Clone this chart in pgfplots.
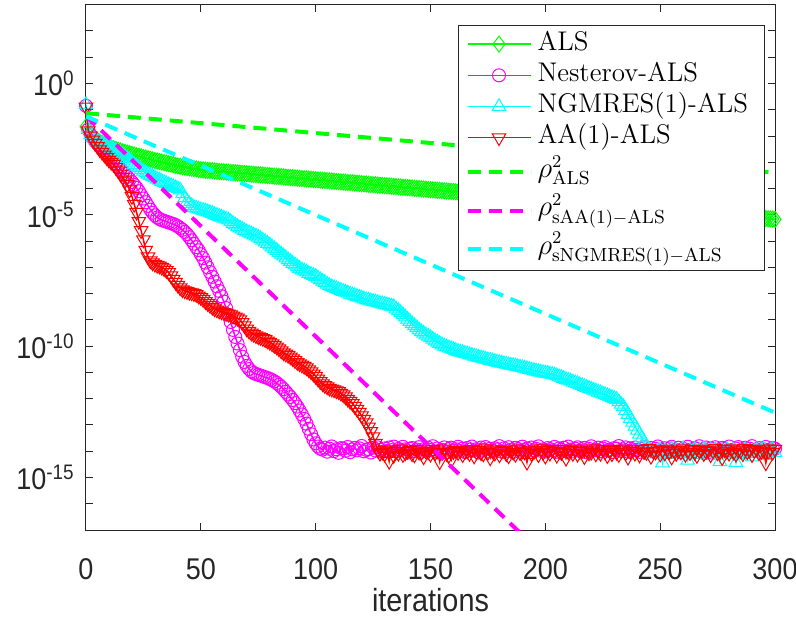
\documentclass[border=0pt]{standalone}
\usepackage{fontspec}
\usepackage{pgfplots}
\pgfplotsset{compat=1.18}
\newfontfamily\axisfont[FakeStretch=0.9]{Liberation Sans}
\definecolor{cG}{rgb}{0,1,0}
\definecolor{cM}{rgb}{1,0,1}
\definecolor{cC}{rgb}{0,1,1}
\definecolor{cR}{rgb}{1,0,0}
\definecolor{axgray}{rgb}{0.15,0.15,0.15}
\begin{document}
\begin{tikzpicture}
\path[use as bounding box] (-43pt,-43.5pt) rectangle (355pt,265pt);
\begin{axis}[
  at={(0,0)}, anchor=south west,
  scale only axis, width=344.5pt, height=262.65pt,
  xmin=0, xmax=300, ymode=log, ymin=1e-17, ymax=1e3,
  xtick={0,50,...,300},
  ytick={1e-15,1e-10,1e-5,1},
  yticklabels={10\textsuperscript{-15},10\textsuperscript{-10},10\textsuperscript{-5},10\textsuperscript{0}},
  minor ytick={1e-17,1e-16,1e-14,1e-13,1e-12,1e-11,1e-9,1e-8,1e-7,1e-6,1e-4,1e-3,1e-2,1e-1,1e1,1e2},
  tick align=inside, major tick length=3.5pt, minor tick length=3.5pt,
  tick style={axgray, line width=0.5pt},
  axis line style={axgray, line width=0.5pt},
  /pgf/number format/assume math mode=true,
  xticklabel style={font=\axisfont\fontsize{15}{16}\selectfont, text=axgray, inner sep=0pt, yshift=-14pt},
  yticklabel style={font=\axisfont\fontsize{15}{16}\selectfont, text=axgray, inner sep=0pt, xshift=-5.5pt},
  xlabel={iterations},
  xlabel style={font=\axisfont\fontsize{16}{18}\selectfont, text=axgray, at={(axis description cs:0.5,0)}, anchor=base, yshift=-40.5pt, inner sep=0pt},
  clip mode=individual,
  legend cell align=left,
  legend style={at={(rel axis cs:1,1)}, anchor=north east, xshift=-5pt, yshift=-10.15pt,
    draw=axgray, line width=0.5pt, fill=white, inner xsep=3.5pt, inner ysep=1.5pt,
    row sep=0pt, column sep=2.5pt, font=\fontsize{13.5}{15}\selectfont,
    nodes={inner sep=0pt, text height=10.8pt, text depth=4.8pt, text width=110pt, align=left}},
  legend image code/.code={\draw[mark repeat=2,mark phase=2,#1] plot coordinates {(0pt,0pt)(15.75pt,0pt)(31.5pt,0pt)};},
]
\addplot[cG, line width=0.75pt, mark=diamond, mark size=4pt, mark options={solid, line width=0.5pt}] coordinates {
(0,2.24e-2)(1,1.58e-2)(2,1.20e-2)(3,9.55e-3)(4,7.94e-3)(5,6.76e-3)(6,5.89e-3)(7,5.25e-3)(8,4.68e-3)(9,4.17e-3)
(10,3.80e-3)(11,3.55e-3)(12,3.31e-3)(13,3.09e-3)(14,2.88e-3)(15,2.69e-3)(16,2.51e-3)(17,2.40e-3)(18,2.24e-3)(19,2.14e-3)
(20,2.00e-3)(21,1.91e-3)(22,1.78e-3)(23,1.70e-3)(24,1.62e-3)(25,1.51e-3)(26,1.45e-3)(27,1.38e-3)(28,1.32e-3)(29,1.23e-3)
(30,1.17e-3)(31,1.12e-3)(32,1.07e-3)(33,1.02e-3)(34,9.77e-4)(35,9.33e-4)(36,8.91e-4)(37,8.51e-4)(38,8.13e-4)(39,7.59e-4)
(40,7.24e-4)(41,7.08e-4)(42,6.76e-4)(43,6.61e-4)(44,6.31e-4)(45,6.17e-4)(46,6.03e-4)(47,5.75e-4)(48,5.62e-4)(49,5.37e-4)
(50,5.25e-4)(51,5.13e-4)(52,5.01e-4)(53,4.90e-4)(54,4.85e-4)(55,4.79e-4)(56,4.68e-4)(57,4.57e-4)(58,4.47e-4)(59,4.42e-4)
(60,4.37e-4)(61,4.29e-4)(62,4.22e-4)(63,4.14e-4)(64,4.07e-4)(65,4.00e-4)(66,3.93e-4)(67,3.87e-4)(68,3.80e-4)(69,3.73e-4)
(70,3.67e-4)(71,3.61e-4)(72,3.54e-4)(73,3.48e-4)(74,3.42e-4)(75,3.36e-4)(76,3.31e-4)(77,3.25e-4)(78,3.19e-4)(79,3.14e-4)
(80,3.08e-4)(81,3.03e-4)(82,2.98e-4)(83,2.93e-4)(84,2.88e-4)(85,2.83e-4)(86,2.78e-4)(87,2.73e-4)(88,2.68e-4)(89,2.64e-4)
(90,2.59e-4)(91,2.55e-4)(92,2.50e-4)(93,2.46e-4)(94,2.42e-4)(95,2.38e-4)(96,2.34e-4)(97,2.30e-4)(98,2.26e-4)(99,2.22e-4)
(100,2.18e-4)(101,2.14e-4)(102,2.10e-4)(103,2.07e-4)(104,2.03e-4)(105,2.00e-4)(106,1.96e-4)(107,1.93e-4)(108,1.90e-4)(109,1.86e-4)
(110,1.83e-4)(111,1.80e-4)(112,1.77e-4)(113,1.74e-4)(114,1.71e-4)(115,1.68e-4)(116,1.65e-4)(117,1.62e-4)(118,1.59e-4)(119,1.57e-4)
(120,1.54e-4)(121,1.51e-4)(122,1.49e-4)(123,1.46e-4)(124,1.43e-4)(125,1.41e-4)(126,1.39e-4)(127,1.36e-4)(128,1.34e-4)(129,1.32e-4)
(130,1.29e-4)(131,1.27e-4)(132,1.25e-4)(133,1.23e-4)(134,1.21e-4)(135,1.19e-4)(136,1.16e-4)(137,1.14e-4)(138,1.12e-4)(139,1.11e-4)
(140,1.09e-4)(141,1.07e-4)(142,1.05e-4)(143,1.03e-4)(144,1.01e-4)(145,9.96e-5)(146,9.78e-5)(147,9.61e-5)(148,9.45e-5)(149,9.28e-5)
(150,9.13e-5)(151,8.97e-5)(152,8.81e-5)(153,8.66e-5)(154,8.51e-5)(155,8.37e-5)(156,8.22e-5)(157,8.08e-5)(158,7.94e-5)(159,7.80e-5)
(160,7.67e-5)(161,7.54e-5)(162,7.41e-5)(163,7.28e-5)(164,7.15e-5)(165,7.03e-5)
(170,6.45e-5)(175,5.91e-5)(180,5.42e-5)(185,4.97e-5)(190,4.56e-5)(195,4.18e-5)(200,3.83e-5)(205,3.51e-5)(210,3.22e-5)(215,2.95e-5)
(220,2.70e-5)(225,2.48e-5)(230,2.27e-5)(235,2.08e-5)(240,1.91e-5)(245,1.75e-5)(250,1.61e-5)(255,1.47e-5)(260,1.35e-5)(265,1.24e-5)
(270,1.13e-5)(275,1.04e-5)(280,9.53e-6)(285,8.73e-6)(290,8.01e-6)
(291,7.87e-6)(292,7.73e-6)(293,7.60e-6)(294,7.47e-6)(295,7.34e-6)(296,7.21e-6)(297,7.09e-6)(298,6.97e-6)(299,6.85e-6)(300,6.73e-6)
};
\addlegendentry{ALS}
\addplot[cM, line width=0.75pt, mark=o, mark size=3.25pt, mark options={solid, line width=0.5pt}] coordinates {
(0,1.41e-1)(1,1.78e-2)(2,1.12e-2)(3,8.32e-3)(4,6.31e-3)(5,5.01e-3)(6,3.98e-3)(7,3.16e-3)(8,2.51e-3)(9,2.09e-3)
(10,1.74e-3)(11,1.38e-3)(12,1.12e-3)(13,8.91e-4)(14,7.08e-4)(15,5.62e-4)(16,4.47e-4)(17,3.55e-4)(18,2.82e-4)(19,2.24e-4)
(20,1.78e-4)(21,1.38e-4)(22,1.07e-4)(23,7.94e-5)(24,5.62e-5)(25,4.17e-5)(26,3.02e-5)(27,2.19e-5)(28,1.58e-5)(29,1.20e-5)
(30,9.55e-6)(31,7.94e-6)(32,6.92e-6)(33,6.31e-6)(34,5.89e-6)(35,5.50e-6)(36,5.13e-6)(37,4.79e-6)(38,4.47e-6)(39,4.07e-6)
(40,3.63e-6)(41,3.16e-6)(42,2.69e-6)(43,2.24e-6)(44,1.82e-6)(45,1.41e-6)(46,1.07e-6)(47,7.94e-7)(48,5.89e-7)(49,4.47e-7)
(50,3.16e-7)(51,2.24e-7)(52,1.51e-7)(53,1.00e-7)(54,6.61e-8)(55,4.37e-8)(56,2.88e-8)(57,1.91e-8)(58,1.26e-8)(59,7.94e-9)
(60,5.01e-9)(61,2.82e-9)(62,1.58e-9)(63,8.32e-10)(64,4.17e-10)(65,2.24e-10)(66,1.26e-10)(67,7.08e-11)(68,3.98e-11)(69,2.51e-11)
(70,1.78e-11)(71,1.35e-11)(72,1.10e-11)(73,9.55e-12)(74,8.71e-12)(75,8.13e-12)(76,7.59e-12)(77,7.08e-12)(78,6.61e-12)(79,6.17e-12)
(80,5.62e-12)(81,5.13e-12)(82,4.57e-12)(83,3.98e-12)(84,3.39e-12)(85,2.82e-12)(86,2.29e-12)(87,1.82e-12)(88,1.45e-12)(89,1.15e-12)
(90,8.91e-13)(91,6.76e-13)(92,5.01e-13)(93,3.55e-13)(94,2.51e-13)(95,1.70e-13)(96,1.12e-13)(97,7.08e-14)(98,4.47e-14)(99,2.82e-14)
(100,2.00e-14)(101,1.51e-14)(102,1.26e-14)
(103,11.5e-15)(104,13.8e-15)(105,9.6e-15)(106,12.4e-15)(107,15.2e-15)(108,10.1e-15)(109,11.9e-15)(110,8.7e-15)(111,13.1e-15)(112,12.6e-15)
(113,10.4e-15)(114,14.5e-15)(115,9.2e-15)(116,11.7e-15)(117,13.4e-15)(118,10.8e-15)(119,12.9e-15)(120,15.8e-15)(121,9.9e-15)(122,11.2e-15)
(123,12.1e-15)(124,8.9e-15)(125,13.6e-15)(126,10.6e-15)(127,14.1e-15)(128,11.4e-15)(129,9.4e-15)(130,12.8e-15)(131,10.2e-15)(132,13.9e-15)
(133,11.0e-15)(134,15.0e-15)(135,9.7e-15)(136,12.3e-15)(137,10.9e-15)(138,14.7e-15)(139,11.8e-15)(140,8.8e-15)(141,12.5e-15)(142,13.2e-15)
(143,10.0e-15)(144,11.6e-15)(145,14.3e-15)(146,9.5e-15)(147,12.0e-15)(148,10.7e-15)(149,13.5e-15)(150,11.1e-15)(151,15.5e-15)(152,9.8e-15)
(153,12.7e-15)(154,10.3e-15)(155,11.3e-15)(156,14.0e-15)(157,9.1e-15)(158,12.2e-15)(159,13.7e-15)(160,10.5e-15)(161,11.9e-15)(162,14.8e-15)
(163,10.2e-15)(164,12.6e-15)(165,9.3e-15)(166,13.3e-15)(167,11.5e-15)(168,15.1e-15)(169,10.6e-15)(170,12.0e-15)(171,8.9e-15)(172,13.8e-15)
(173,11.2e-15)(174,14.4e-15)(175,9.9e-15)(176,12.4e-15)(177,10.8e-15)(178,13.0e-15)(179,11.7e-15)(180,15.6e-15)(181,9.6e-15)(182,12.9e-15)
(183,10.1e-15)(184,14.2e-15)(185,11.3e-15)(186,9.4e-15)(187,13.5e-15)(188,12.1e-15)(189,10.5e-15)(190,14.9e-15)(191,11.0e-15)(192,12.7e-15)
(193,9.2e-15)(194,13.9e-15)(195,10.9e-15)(196,12.3e-15)(197,15.3e-15)(198,10.4e-15)(199,11.8e-15)(200,9.7e-15)(201,13.2e-15)(202,12.0e-15)
(203,10.7e-15)(204,14.6e-15)(205,9.5e-15)(206,12.8e-15)(207,11.4e-15)(208,13.6e-15)(209,10.0e-15)(210,15.0e-15)(211,11.6e-15)(212,9.8e-15)
(213,12.5e-15)(214,14.1e-15)(215,10.3e-15)(216,11.9e-15)(217,13.4e-15)(218,9.0e-15)(219,12.2e-15)(220,15.4e-15)(221,10.6e-15)(222,11.1e-15)
(223,13.7e-15)(224,9.9e-15)(225,12.6e-15)(226,14.3e-15)(227,10.8e-15)(228,11.5e-15)(229,9.3e-15)(230,13.1e-15)(231,12.4e-15)(232,15.7e-15)
(233,10.2e-15)(234,11.7e-15)(235,14.0e-15)(236,9.6e-15)(237,12.9e-15)(238,10.9e-15)(239,13.8e-15)(240,11.2e-15)(241,9.4e-15)(242,12.1e-15)
(243,14.5e-15)(244,10.5e-15)(245,11.8e-15)(246,13.3e-15)(247,9.8e-15)(248,12.3e-15)(249,15.2e-15)(250,10.1e-15)(251,11.4e-15)(252,13.0e-15)
(253,9.5e-15)(254,12.7e-15)(255,14.7e-15)(256,10.7e-15)(257,11.0e-15)(258,13.6e-15)(259,9.1e-15)(260,12.5e-15)(261,10.4e-15)(262,14.8e-15)
(263,11.3e-15)(264,9.7e-15)(265,13.2e-15)(266,12.0e-15)(267,15.5e-15)(268,10.0e-15)(269,11.9e-15)(270,13.9e-15)(271,9.2e-15)(272,12.8e-15)
(273,10.6e-15)(274,14.2e-15)(275,11.6e-15)(276,9.9e-15)(277,13.4e-15)(278,12.2e-15)(279,10.3e-15)(280,15.1e-15)(281,11.1e-15)(282,9.6e-15)
(283,12.6e-15)(284,14.4e-15)(285,10.8e-15)(286,11.5e-15)(287,13.7e-15)(288,9.4e-15)(289,12.4e-15)(290,15.6e-15)(291,10.2e-15)(292,11.7e-15)
(293,13.1e-15)(294,9.8e-15)(295,12.0e-15)(296,14.6e-15)(297,10.9e-15)(298,11.4e-15)(299,13.3e-15)(300,12.5e-15)
};
\addlegendentry{Nesterov-ALS}
\addplot[cC, line width=0.75pt, mark=triangle, mark size=3.9pt, mark options={solid, line width=0.5pt}] coordinates {
(0,1.58e-1)(1,1.78e-2)(2,1.12e-2)(3,8.91e-3)(4,7.08e-3)(5,6.31e-3)(6,5.62e-3)(7,5.01e-3)(8,4.47e-3)(9,4.07e-3)
(10,3.72e-3)(11,3.47e-3)(12,3.16e-3)(13,2.75e-3)(14,2.40e-3)(15,2.14e-3)(16,1.86e-3)(17,1.62e-3)(18,1.41e-3)(19,1.20e-3)
(20,1.00e-3)(21,8.32e-4)(22,7.08e-4)(23,6.17e-4)(24,5.25e-4)(25,4.57e-4)(26,3.98e-4)(27,3.55e-4)(28,3.16e-4)(29,2.82e-4)
(30,2.51e-4)(31,2.29e-4)(32,2.09e-4)(33,1.86e-4)(34,1.70e-4)(35,1.55e-4)(36,1.41e-4)(37,1.29e-4)(38,1.17e-4)(39,1.07e-4)
(40,9.77e-5)(41,8.91e-5)(42,6.31e-5)(43,4.47e-5)(44,3.16e-5)(45,2.63e-5)(46,2.24e-5)(47,1.91e-5)(48,1.78e-5)(49,1.66e-5)
(50,1.55e-5)(51,1.45e-5)(52,1.38e-5)(53,1.29e-5)(54,1.20e-5)(55,1.12e-5)(56,1.02e-5)(57,9.55e-6)(58,8.71e-6)(59,8.13e-6)
(60,7.41e-6)(61,6.92e-6)(62,6.31e-6)(63,5.50e-6)(64,4.68e-6)(65,4.07e-6)(66,3.55e-6)(67,3.16e-6)(68,2.82e-6)(69,2.51e-6)
(70,2.24e-6)(71,2.04e-6)(72,1.86e-6)(73,1.70e-6)(74,1.55e-6)(75,1.41e-6)(76,1.23e-6)(77,1.07e-6)(78,9.33e-7)(79,8.13e-7)
(80,7.08e-7)(81,6.03e-7)(82,5.13e-7)(83,4.37e-7)(84,3.72e-7)(85,3.16e-7)(86,2.69e-7)(87,2.29e-7)(88,1.95e-7)(89,1.66e-7)
(90,1.41e-7)(91,1.23e-7)(92,1.05e-7)(93,9.12e-8)(94,7.94e-8)(95,7.24e-8)(96,6.61e-8)(97,5.89e-8)(98,5.37e-8)(99,4.90e-8)
(100,4.47e-8)(101,3.89e-8)(102,3.39e-8)(103,2.95e-8)(104,2.63e-8)(105,2.29e-8)(106,2.00e-8)(107,1.82e-8)(108,1.66e-8)(109,1.55e-8)
(110,1.41e-8)(111,1.32e-8)(112,1.20e-8)(113,1.12e-8)(114,1.05e-8)(115,9.55e-9)(116,8.91e-9)(117,8.32e-9)(118,7.76e-9)(119,7.24e-9)
(120,6.76e-9)(121,6.31e-9)(122,5.89e-9)(123,5.62e-9)(124,5.25e-9)(125,5.01e-9)(126,4.79e-9)(127,4.57e-9)(128,4.27e-9)(129,4.07e-9)
(130,3.89e-9)(131,3.72e-9)(132,3.47e-9)(133,3.31e-9)(134,3.16e-9)(135,2.63e-9)(136,2.24e-9)(137,1.86e-9)(138,1.58e-9)(139,1.29e-9)
(140,1.05e-9)(141,8.71e-10)(142,7.08e-10)(143,6.03e-10)(144,5.01e-10)(145,4.17e-10)(146,3.55e-10)(147,3.09e-10)(148,2.69e-10)(149,2.40e-10)
(150,2.09e-10)(151,1.82e-10)(152,1.58e-10)(153,1.41e-10)(154,1.26e-10)(155,1.12e-10)(156,1.00e-10)(157,9.33e-11)(158,8.51e-11)(159,7.94e-11)
(160,7.41e-11)(161,6.76e-11)(162,6.31e-11)(163,5.89e-11)(164,5.62e-11)(165,5.25e-11)(166,5.01e-11)(167,4.68e-11)(168,4.47e-11)(169,4.17e-11)
(170,3.98e-11)(171,3.72e-11)(172,3.55e-11)(173,3.39e-11)(174,3.16e-11)(175,3.02e-11)(176,2.88e-11)(177,2.75e-11)(178,2.57e-11)(179,2.45e-11)
(180,2.34e-11)(181,2.24e-11)(182,2.14e-11)(183,2.04e-11)(184,1.95e-11)(185,1.86e-11)(186,1.82e-11)(187,1.74e-11)(188,1.66e-11)(189,1.58e-11)
(190,1.51e-11)(191,1.45e-11)(192,1.38e-11)(193,1.29e-11)(194,1.23e-11)(195,1.17e-11)(196,1.12e-11)(197,1.07e-11)(198,1.02e-11)(199,9.77e-12)
(200,9.33e-12)(201,9.12e-12)(202,8.71e-12)(203,8.32e-12)(204,7.94e-12)(205,7.41e-12)(206,6.76e-12)(207,6.31e-12)(208,5.89e-12)(209,5.37e-12)
(210,5.01e-12)(211,4.68e-12)(212,4.27e-12)(213,3.98e-12)(214,3.72e-12)(215,3.39e-12)(216,3.16e-12)(217,2.88e-12)(218,2.69e-12)(219,2.45e-12)
(220,2.29e-12)(221,2.09e-12)(222,1.95e-12)(223,1.78e-12)(224,1.66e-12)(225,1.51e-12)(226,1.41e-12)(227,1.29e-12)(228,1.20e-12)(229,1.10e-12)
(230,1.02e-12)(231,9.33e-13)(232,7.59e-13)(233,6.17e-13)(234,5.01e-13)(235,3.55e-13)(236,2.51e-13)(237,1.78e-13)(238,1.26e-13)(239,8.91e-14)
(240,6.31e-14)(241,4.47e-14)(242,3.16e-14)(243,2.24e-14)(244,1.58e-14)(245,1.12e-14)(246,9.55e-15)(247,7.94e-15)
(248,9.5e-15)(249,8.2e-15)(250,11.0e-15)(251,3.6e-15)(252,10.2e-15)(253,7.6e-15)(254,9.0e-15)(255,11.8e-15)(256,8.5e-15)(257,10.7e-15)
(258,7.9e-15)(259,9.8e-15)(260,12.3e-15)(261,8.8e-15)(262,4.5e-15)(263,10.4e-15)(264,9.3e-15)(265,11.5e-15)(266,7.4e-15)(267,10.0e-15)
(268,8.7e-15)(269,12.0e-15)(270,9.6e-15)(271,6.9e-15)(272,10.9e-15)(273,8.3e-15)(274,11.2e-15)(275,9.1e-15)(276,4.0e-15)(277,10.5e-15)
(278,8.0e-15)(279,11.7e-15)(280,9.4e-15)(281,7.7e-15)(282,10.8e-15)(283,3.7e-15)(284,8.9e-15)(285,9.9e-15)(286,7.3e-15)(287,11.4e-15)
(288,10.1e-15)(289,8.6e-15)(290,6.0e-15)(291,9.7e-15)(292,11.1e-15)(293,8.4e-15)(294,10.6e-15)(295,12.2e-15)(296,9.2e-15)(297,7.8e-15)
(298,10.3e-15)(299,11.6e-15)(300,9.0e-15)
};
\addlegendentry{NGMRES(1)-ALS}
\addplot[cR, line width=0.75pt, mark=triangle, mark size=3.9pt, mark options={solid, line width=0.5pt, rotate=180}] coordinates {
(0,1.26e-1)(1,1.58e-2)(2,1.00e-2)(3,7.08e-3)(4,5.25e-3)(5,3.98e-3)(6,3.02e-3)(7,2.40e-3)(8,1.91e-3)(9,1.51e-3)
(10,1.20e-3)(11,1.00e-3)(12,8.32e-4)(13,6.31e-4)(14,4.79e-4)(15,3.55e-4)(16,2.69e-4)(17,2.00e-4)(18,1.41e-4)(19,8.91e-5)
(20,5.01e-5)(21,2.51e-5)(22,1.26e-5)(23,5.62e-6)(24,2.51e-6)(25,1.12e-6)(26,4.47e-7)(27,2.51e-7)(28,1.78e-7)(29,1.48e-7)
(30,1.32e-7)(31,1.20e-7)(32,1.12e-7)(33,1.00e-7)(34,8.91e-8)(35,7.59e-8)(36,6.31e-8)(37,4.79e-8)(38,3.55e-8)(39,2.69e-8)
(40,2.09e-8)(41,1.66e-8)(42,1.41e-8)(43,1.29e-8)(44,1.20e-8)(45,1.12e-8)(46,1.07e-8)(47,1.00e-8)(48,9.33e-9)(49,8.13e-9)
(50,7.08e-9)(51,6.03e-9)(52,5.01e-9)(53,4.17e-9)(54,3.55e-9)(55,3.02e-9)(56,2.63e-9)(57,2.40e-9)(58,2.19e-9)(59,2.04e-9)
(60,1.91e-9)(61,1.78e-9)(62,1.66e-9)(63,1.55e-9)(64,1.41e-9)(65,1.29e-9)(66,1.17e-9)(67,1.00e-9)(68,7.94e-10)(69,6.03e-10)
(70,4.47e-10)(71,3.72e-10)(72,3.16e-10)(73,2.82e-10)(74,2.51e-10)(75,2.29e-10)(76,2.14e-10)(77,1.95e-10)(78,1.78e-10)(79,1.58e-10)
(80,1.41e-10)(81,1.23e-10)(82,1.07e-10)(83,9.33e-11)(84,7.94e-11)(85,6.61e-11)(86,5.62e-11)(87,5.01e-11)(88,4.47e-11)(89,3.89e-11)
(90,3.31e-11)(91,2.82e-11)(92,2.40e-11)(93,2.14e-11)(94,1.91e-11)(95,1.70e-11)(96,1.51e-11)(97,1.26e-11)(98,1.05e-11)(99,8.71e-12)
(100,7.08e-12)(101,5.62e-12)(102,4.47e-12)(103,3.72e-12)(104,3.16e-12)(105,2.82e-12)(106,2.51e-12)(107,2.34e-12)(108,2.19e-12)(109,2.00e-12)
(110,1.86e-12)(111,1.62e-12)(112,1.41e-12)(113,1.17e-12)(114,9.55e-13)(115,7.94e-13)(116,6.61e-13)(117,5.13e-13)(118,3.98e-13)(119,3.02e-13)
(120,2.24e-13)(121,1.66e-13)(122,1.20e-13)(123,8.32e-14)(124,5.62e-14)(125,3.55e-14)(126,2.00e-14)(127,1.12e-14)(128,8.32e-15)
(129,9.2e-15)(130,7.8e-15)(131,10.5e-15)(132,4.1e-15)(133,11.3e-15)(134,6.9e-15)(135,9.7e-15)(136,8.4e-15)(137,12.0e-15)(138,7.5e-15)
(139,8.6e-15)(140,9.9e-15)(141,10.8e-15)(142,8.0e-15)(143,7.2e-15)(144,11.6e-15)(145,9.3e-15)(146,8.8e-15)(147,6.1e-15)(148,10.1e-15)
(149,9.5e-15)(150,7.7e-15)(151,11.9e-15)(152,8.6e-15)(153,10.4e-15)(154,4.0e-15)(155,9.0e-15)(156,12.2e-15)(157,8.3e-15)(158,7.1e-15)
(159,4.6e-15)(160,9.8e-15)(161,10.7e-15)(162,8.9e-15)(163,11.1e-15)(164,7.4e-15)(165,9.6e-15)(166,10.2e-15)(167,8.2e-15)(168,11.7e-15)
(169,6.6e-15)(170,9.4e-15)(171,10.9e-15)(172,8.7e-15)(173,7.9e-15)(174,12.4e-15)(175,9.1e-15)(176,5.6e-15)(177,10.3e-15)(178,8.5e-15)
(179,11.4e-15)(180,7.3e-15)(181,9.9e-15)(182,10.6e-15)(183,8.0e-15)(184,6.7e-15)(185,11.0e-15)(186,9.2e-15)(187,7.6e-15)(188,12.1e-15)
(189,8.8e-15)(190,10.2e-15)(191,9.3e-15)(192,3.8e-15)(193,11.2e-15)(194,8.1e-15)(195,9.6e-15)(196,10.9e-15)(197,7.4e-15)(198,12.3e-15)
(199,9.0e-15)(200,6.5e-15)(201,10.6e-15)(202,8.4e-15)(203,11.5e-15)(204,9.7e-15)(205,7.0e-15)(206,10.0e-15)(207,8.9e-15)(208,11.8e-15)
(209,5.4e-15)(210,9.5e-15)(211,10.8e-15)(212,8.2e-15)(213,12.0e-15)(214,7.7e-15)(215,9.9e-15)(216,10.4e-15)(217,6.2e-15)(218,11.1e-15)
(219,8.6e-15)(220,9.2e-15)(221,12.5e-15)(222,7.9e-15)(223,10.1e-15)(224,8.3e-15)(225,11.6e-15)(226,9.4e-15)(227,6.8e-15)(228,10.7e-15)
(229,8.0e-15)(230,11.9e-15)(231,9.1e-15)(232,7.5e-15)(233,10.5e-15)(234,12.2e-15)(235,8.7e-15)(236,5.9e-15)(237,9.8e-15)(238,11.3e-15)
(239,8.4e-15)(240,10.2e-15)(241,7.2e-15)(242,11.7e-15)(243,9.6e-15)(244,8.9e-15)(245,12.6e-15)(246,6.4e-15)(247,10.0e-15)(248,9.3e-15)
(249,11.4e-15)(250,7.8e-15)(251,10.9e-15)(252,8.5e-15)(253,12.1e-15)(254,9.7e-15)(255,6.0e-15)(256,11.0e-15)(257,8.2e-15)(258,10.6e-15)
(259,9.4e-15)(260,12.4e-15)(261,7.6e-15)(262,10.3e-15)(263,8.8e-15)(264,11.8e-15)(265,9.0e-15)(266,6.9e-15)(267,10.8e-15)(268,12.0e-15)
(269,8.1e-15)(270,9.9e-15)(271,11.2e-15)(272,7.3e-15)(273,10.5e-15)(274,12.7e-15)(275,8.6e-15)(276,9.5e-15)(277,5.7e-15)(278,11.5e-15)
(279,10.1e-15)(280,8.4e-15)(281,12.3e-15)(282,9.2e-15)(283,7.7e-15)(284,11.1e-15)(285,10.4e-15)(286,8.0e-15)(287,12.8e-15)(288,9.6e-15)
(289,11.6e-15)(290,7.4e-15)(291,10.7e-15)(292,12.2e-15)(293,8.9e-15)(294,9.8e-15)(295,11.3e-15)(296,3.6e-15)(297,10.2e-15)(298,12.5e-15)
(299,9.1e-15)(300,11.9e-15)
};
\addlegendentry{AA(1)-ALS}
\addplot[cG, line width=2pt, dash pattern=on 6.5pt off 4pt] coordinates {(0,7.41e-2)(300,3.98e-4)};
\addlegendentry[text height=12.2pt, text depth=6.9pt]{$\rho^2_{\mathrm{ALS}}$}
\addplot[cM, line width=2pt, dash pattern=on 6.5pt off 4pt] coordinates {(0,5.89e-2)(200,9.33e-19)};
\addlegendentry[text height=12.2pt, text depth=6.9pt]{$\rho^2_{\mathrm{sAA(1)-ALS}}$}
\addplot[cC, line width=2pt, dash pattern=on 6.5pt off 4pt] coordinates {(0,5.62e-2)(300,2.95e-13)};
\addlegendentry[text height=12.2pt, text depth=6.9pt]{$\rho^2_{\mathrm{sNGMRES(1)-ALS}}$}
\end{axis}
\end{tikzpicture}
\end{document}
